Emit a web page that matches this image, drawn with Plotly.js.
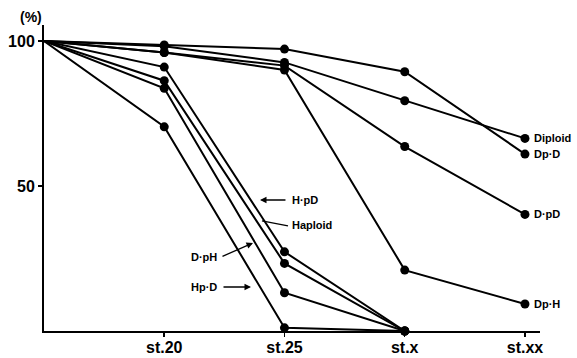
<!DOCTYPE html>
<html>
<head>
<meta charset="utf-8">
<script src="https://cdn.plot.ly/plotly-3.0.1.min.js"></script>
<style>html,body{margin:0;padding:0;background:#fff;}#chart{width:577px;height:358px;}</style>
</head>
<body>
<div id="chart"></div>
<script>
// Stage positions (0 = start) and tick labels
const stages = [0, 1, 2, 3, 4];
const tickLabels = ['st.20', 'st.25', 'st.x', 'st.xx'];
const tickPos = [1, 2, 3, 4];

// Survival (%) for each cross
const diploid = [100, 98.2, 92.6, 79.4, 66.4];
const dpD     = [100, 98.6, 97.2, 89.4, 61.0];
const dpD2    = [100, 96.0, 91.5, 63.6, 40.2];   // D·pD
const dpH     = [100, 96.0, 90.0, 21.0, 9.3];    // Dp·H
const hpD     = [100, 91.0, 27.3, 0];            // H·pD
const haploid = [100, 86.3, 23.3, 0];
const dpH2    = [100, 83.7, 13.2, 0];            // D·pH
const hpD2    = [100, 70.4, 1.1, 0];             // Hp·D

const seriesList = [
  {name: 'Diploid', y: diploid},
  {name: 'Dp·D', y: dpD},
  {name: 'D·pD', y: dpD2},
  {name: 'Dp·H', y: dpH},
  {name: 'H·pD', y: hpD},
  {name: 'Haploid', y: haploid},
  {name: 'D·pH', y: dpH2},
  {name: 'Hp·D', y: hpD2}
];

const traces = seriesList.map(s => ({
  x: stages.slice(0, s.y.length),
  y: s.y,
  name: s.name,
  type: 'scatter',
  mode: 'lines+markers',
  line: {color: '#000', width: 2},
  marker: {color: '#000', size: s.y.map((v, i) => i === 0 ? 0 : 9), symbol: 'circle',
           line: {width: 0}, opacity: 1},
  cliponaxis: false
}));

const F = 'Liberation Sans, Arial, Helvetica, sans-serif';
const labFont = {family: F, size: 11, color: '#000', weight: 700};

// pixel helpers for annotation placement (plot area x:44..540, y:331..25)
const px = p => (p - 44) / 120.25;
const py = p => (331 - p) / 2.9;

const endLabels = [
  {text: 'Diploid', y: diploid[4]},
  {text: 'Dp·D', y: dpD[4]},
  {text: 'D·pD', y: dpD2[4]},
  {text: 'Dp·H', y: dpH[4]}
];

const annotations = endLabels.map(l => ({
  x: 4, y: l.y, xref: 'x', yref: 'y', text: l.text, showarrow: false,
  xanchor: 'left', xshift: 7, font: labFont
}));

annotations.push(
  {x: px(290), y: py(200), xref: 'x', yref: 'y', text: 'H·pD', showarrow: false, xanchor: 'left', font: labFont},
  {x: px(290), y: py(225), xref: 'x', yref: 'y', text: 'Haploid', showarrow: false, xanchor: 'left', font: labFont},
  {x: px(219), y: py(257), xref: 'x', yref: 'y', text: 'D·pH', showarrow: false, xanchor: 'right', font: labFont},
  {x: px(219), y: py(287), xref: 'x', yref: 'y', text: 'Hp·D', showarrow: false, xanchor: 'right', font: labFont},
  // arrows
  {x: px(260), y: py(200), ax: px(287), ay: py(200), xref: 'x', yref: 'y', axref: 'x', ayref: 'y',
   text: '', showarrow: true, arrowhead: 2, arrowsize: 1, arrowwidth: 1.3, arrowcolor: '#000'},
  {x: px(253), y: py(243), ax: px(221), ay: py(257), xref: 'x', yref: 'y', axref: 'x', ayref: 'y',
   text: '', showarrow: true, arrowhead: 2, arrowsize: 1, arrowwidth: 1.3, arrowcolor: '#000'},
  {x: px(251), y: py(287), ax: px(222), ay: py(287), xref: 'x', yref: 'y', axref: 'x', ayref: 'y',
   text: '', showarrow: true, arrowhead: 2, arrowsize: 1, arrowwidth: 1.3, arrowcolor: '#000'},
  // (%) unit label
  {x: -0.026, y: 1.0, xref: 'paper', yref: 'paper', text: '(%)', showarrow: false,
   xanchor: 'center', yanchor: 'bottom', yshift: -2,
   font: {family: F, size: 14, color: '#000', weight: 700}}
);

const layout = {
  width: 577, height: 358,
  margin: {l: 44, r: 37, t: 25, b: 27},
  paper_bgcolor: '#fff', plot_bgcolor: '#fff',
  showlegend: false,
  xaxis: {
    range: [0, 4.125], showgrid: false, zeroline: false,
    showline: true, linecolor: '#000', linewidth: 2,
    tickmode: 'array', tickvals: tickPos, ticktext: tickLabels,
    ticks: 'outside', ticklen: 4, tickwidth: 1.5, tickcolor: '#000',
    ticklabelstandoff: -3,
    tickfont: {family: F, size: 16, color: '#000', weight: 700}
  },
  yaxis: {
    range: [0, 105.5], showgrid: false, zeroline: false,
    showline: true, linecolor: '#000', linewidth: 2,
    tickmode: 'array', tickvals: [50, 100], ticktext: ['50', '100'],
    ticks: 'outside', ticklen: 4, tickwidth: 1.5, tickcolor: '#000',
    tickfont: {family: F, size: 16, color: '#000', weight: 700}
  },
  shapes: [
    {type: 'line', xref: 'x', yref: 'y', x0: px(262), y0: py(221), x1: px(288), y1: py(226),
     line: {color: '#000', width: 1.3}}
  ],
  annotations: annotations
};

Plotly.newPlot('chart', traces, layout, {displayModeBar: false, staticPlot: true});
</script>
</body>
</html>
